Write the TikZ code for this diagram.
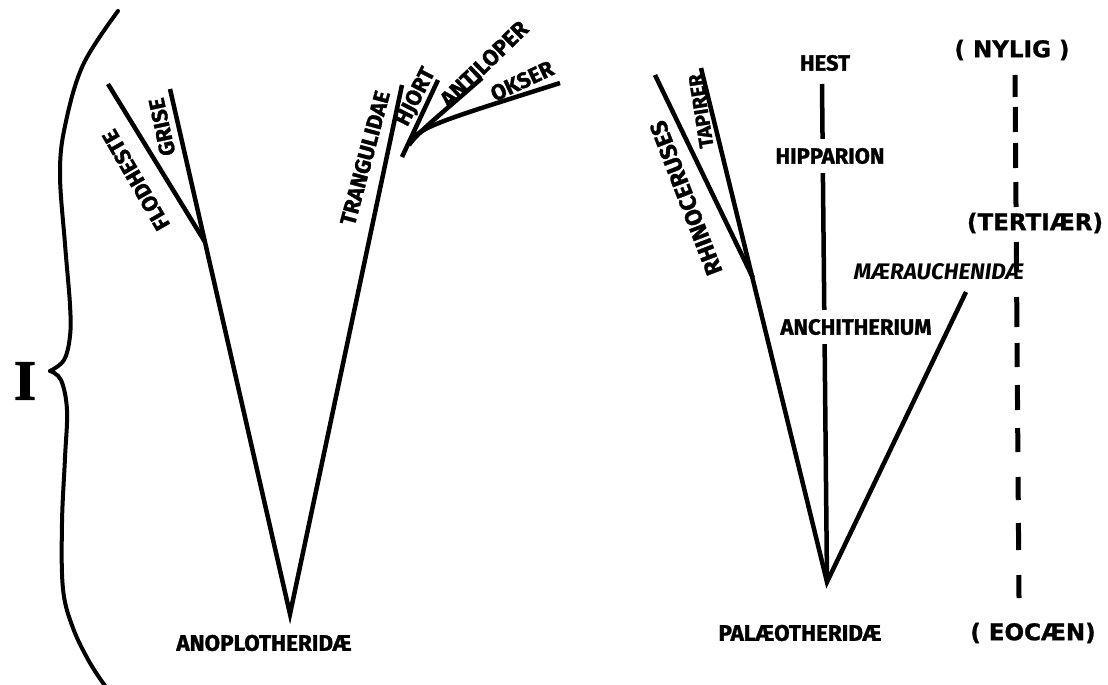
\documentclass[tikz,border=0pt]{standalone}
\usepackage{fontspec}
\newfontfamily\lab{Fira Sans}[BoldFeatures={FakeBold=1.2}]
\newfontfamily\erafont{DejaVu Sans}[BoldFeatures={FakeBold=1}]
\newfontfamily\romanI{Liberation Serif}[BoldFeatures={FakeBold=2}]
\begin{document}
\begin{tikzpicture}[x=1pt,y=-1pt,
  branch/.style={line width=4.5pt, line join=miter},
  lbl/.style={font=\lab\bfseries\fontsize{22}{22}\selectfont, inner sep=1pt},
  era/.style={font=\erafont\bfseries\fontsize{23}{24}\selectfont, inner sep=1pt},
  knock/.style={fill=white, inner xsep=3pt, inner ysep=9pt},
  dashseg/.style={line width=5pt},
  bracestroke/.style={line width=4pt, line cap=round}]
\useasboundingbox (0,0) rectangle (1108,685);
% ---- brace and roman numeral
\draw[bracestroke] plot[smooth, tension=0.6] coordinates {(118,11) (83,65) (65,126) (60,174) (65,244) (70,305) (70,336) (64,360) (50,371)};
\draw[bracestroke] plot[smooth, tension=0.6] coordinates {(50,371) (61,380) (67,410) (65,458) (62,523) (63,589) (73,628) (90,663) (108,690)};
\node[font=\romanI\bfseries\fontsize{57}{57}\selectfont, inner sep=0pt] (roman) at (25,381) {I};
% ---- left tree
\coordinate (v1) at (290,614);
\coordinate (griseTop) at (170,89);
\coordinate (tranTop) at (402,85);
\coordinate (flodTop) at (108,84);
\coordinate (flodFoot) at (205,242);
\draw[branch] (griseTop) -- (v1) -- (tranTop);
\draw[branch] (flodTop) -- (flodFoot);
\coordinate (bovBase) at (402,157);
\coordinate (hjortTop) at (438,80);
\coordinate (antTop) at (482,78);
\coordinate (okserTop) at (560,83);
\draw[branch] (bovBase) -- (hjortTop);
\draw[branch] (409,145) .. controls (418,132) and (440,115) .. (antTop);
\draw[branch] (412,139) .. controls (425,125) and (450,118) .. (okserTop);
\node[lbl, rotate=120] (flod) at (136,180) {FLODHESTE};
\node[lbl, rotate=102] (grise) at (162,127) {GRISE};
\node[lbl, rotate=75] (tran) at (365,158) {TRANGULIDAE};
\node[lbl, rotate=63] (hjort) at (416,97) {HJORT};
\node[lbl, rotate=44, font=\lab\bfseries\fontsize{22.5}{22}\selectfont] (ant) at (484,64) {ANTILOPER};
\node[lbl, rotate=25] (okser) at (522,81) {OKSER};
\node[lbl, font=\lab\bfseries\fontsize{22.5}{22}\selectfont] (anop) at (264,643) {ANOPLOTHERIDÆ};
% ---- right tree
\coordinate (v2) at (827,582);
\coordinate (tapTop) at (701,68);
\coordinate (rhinoTop) at (655,75);
\coordinate (rhinoFoot) at (753,278);
\coordinate (hestTop) at (822,84);
\coordinate (maerTop) at (966,292);
\draw[branch] (tapTop) -- (v2) -- (maerTop);
\draw[branch] (rhinoTop) -- (rhinoFoot);
\draw[branch] (hestTop) -- (v2);
\node[lbl, rotate=111, font=\lab\bfseries\fontsize{23.5}{22}\selectfont] (rhino) at (686,198) {RHINOCERUSES};
\node[lbl, rotate=99, font=\lab\bfseries\fontsize{20}{20}\selectfont] (tap) at (701,111) {TAPIRER};
\node[lbl] (hest) at (825,63) {HEST};
\node[lbl, knock] (hipp) at (830,156) {HIPPARION};
\node[lbl, knock] (anch) at (856,327) {ANCHITHERIUM};
\node[lbl, font=\lab\bfseries\itshape\fontsize{22.5}{22}\selectfont] (maer) at (939,272) {MÆRAUCHENIDÆ};
\node[lbl, font=\lab\bfseries\fontsize{22.5}{22}\selectfont] (pal) at (800,633) {PALÆOTHERIDÆ};
% ---- time scale
\foreach \a/\b in {75/97,107/132,143/168,182/207,242/270,297/327,343/367,385/410,428/452,477/500,523/550,575/598}
  \draw[dashseg] ({1015+4*(\a-75)/523},\a) -- ({1015+4*(\b-75)/523},\b);
\node[era] (nylig) at (1012,50) {( NYLIG )};
\node[era] (tert) at (1035,223) {(TERTIÆR)};
\node[era] (eocaen) at (1033,633) {( EOCÆN)};
\end{tikzpicture}
\end{document}
